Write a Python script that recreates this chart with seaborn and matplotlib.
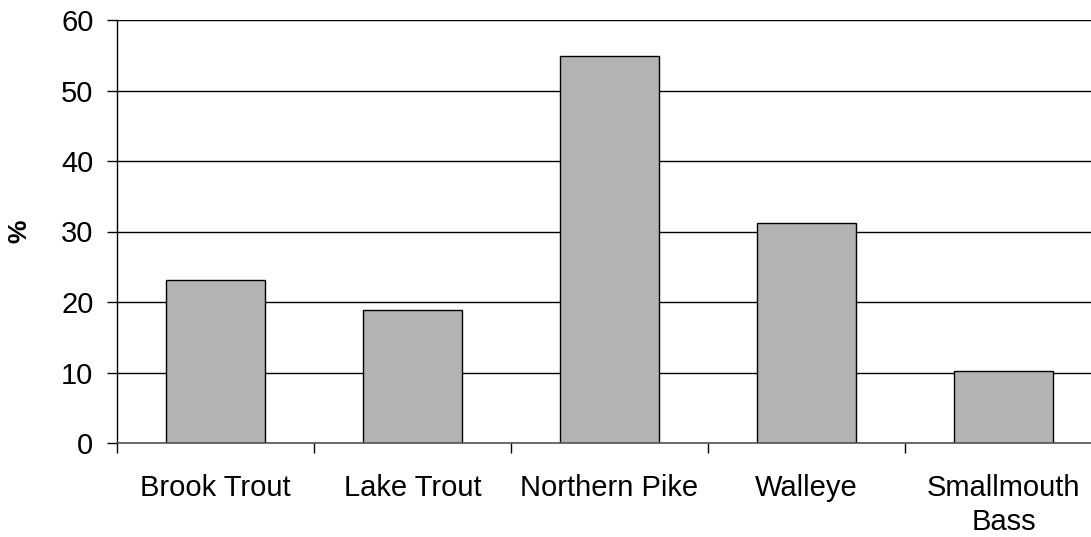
import matplotlib
matplotlib.use("Agg")
import matplotlib.pyplot as plt
import seaborn as sns
import pandas as pd

# Data
species = ["Brook Trout", "Lake Trout", "Northern Pike", "Walleye", "Smallmouth\nBass"]
percent = [23.1, 18.9, 54.9, 31.2, 10.2]
y_ticks = [0, 10, 20, 30, 40, 50, 60]

df = pd.DataFrame({"species": species, "percent": percent})

sns.set_style("white")
plt.rcParams["font.family"] = ["Liberation Sans", "DejaVu Sans"]
plt.rcParams["text.color"] = "black"
plt.rcParams["xtick.color"] = "black"
plt.rcParams["ytick.color"] = "black"
plt.rcParams["axes.labelcolor"] = "black"

fig = plt.figure(figsize=(10.91, 5.37), dpi=100)
W, H = 1091, 537
ax = fig.add_axes([117 / W, 1 - 443 / H, (1102 - 117) / W, (443 - 20) / H])

ax.yaxis.grid(True, color="black", linewidth=1)
ax.set_axisbelow(True)

sns.barplot(data=df, x="species", y="percent", color="#b3b3b3",
            edgecolor="black", linewidth=1, width=0.5, saturation=1, ax=ax)

ax.set_ylim(0, 60)
ax.set_xlim(-0.5, len(species) - 0.5)
ax.set_yticks(y_ticks)
ax.set_xlabel("")
ax.set_ylabel("%", fontsize=19, fontweight="bold")
ax.yaxis.set_label_coords(-(117 - 31) / 985, 0.5)

for s in ["top", "right"]:
    ax.spines[s].set_visible(False)
ax.spines["left"].set_color("black")
ax.spines["bottom"].set_color("#555555")
ax.spines["left"].set_linewidth(1)
ax.spines["bottom"].set_linewidth(1.2)

ax.tick_params(axis="y", length=7, width=1, color="black", pad=10, left=True)
ax.tick_params(axis="x", which="major", length=0, pad=22)
for lab in ax.get_yticklabels() + ax.get_xticklabels():
    lab.set_fontsize(21)
    lab.set_color("black")
for lab in ax.get_xticklabels():
    lab.set_linespacing(1.3)
ax.set_xticks([i - 0.5 for i in range(len(species) + 1)], minor=True)
ax.tick_params(axis="x", which="minor", length=7, width=1, color="black", bottom=True)

fig.savefig("out.png", dpi=100)
